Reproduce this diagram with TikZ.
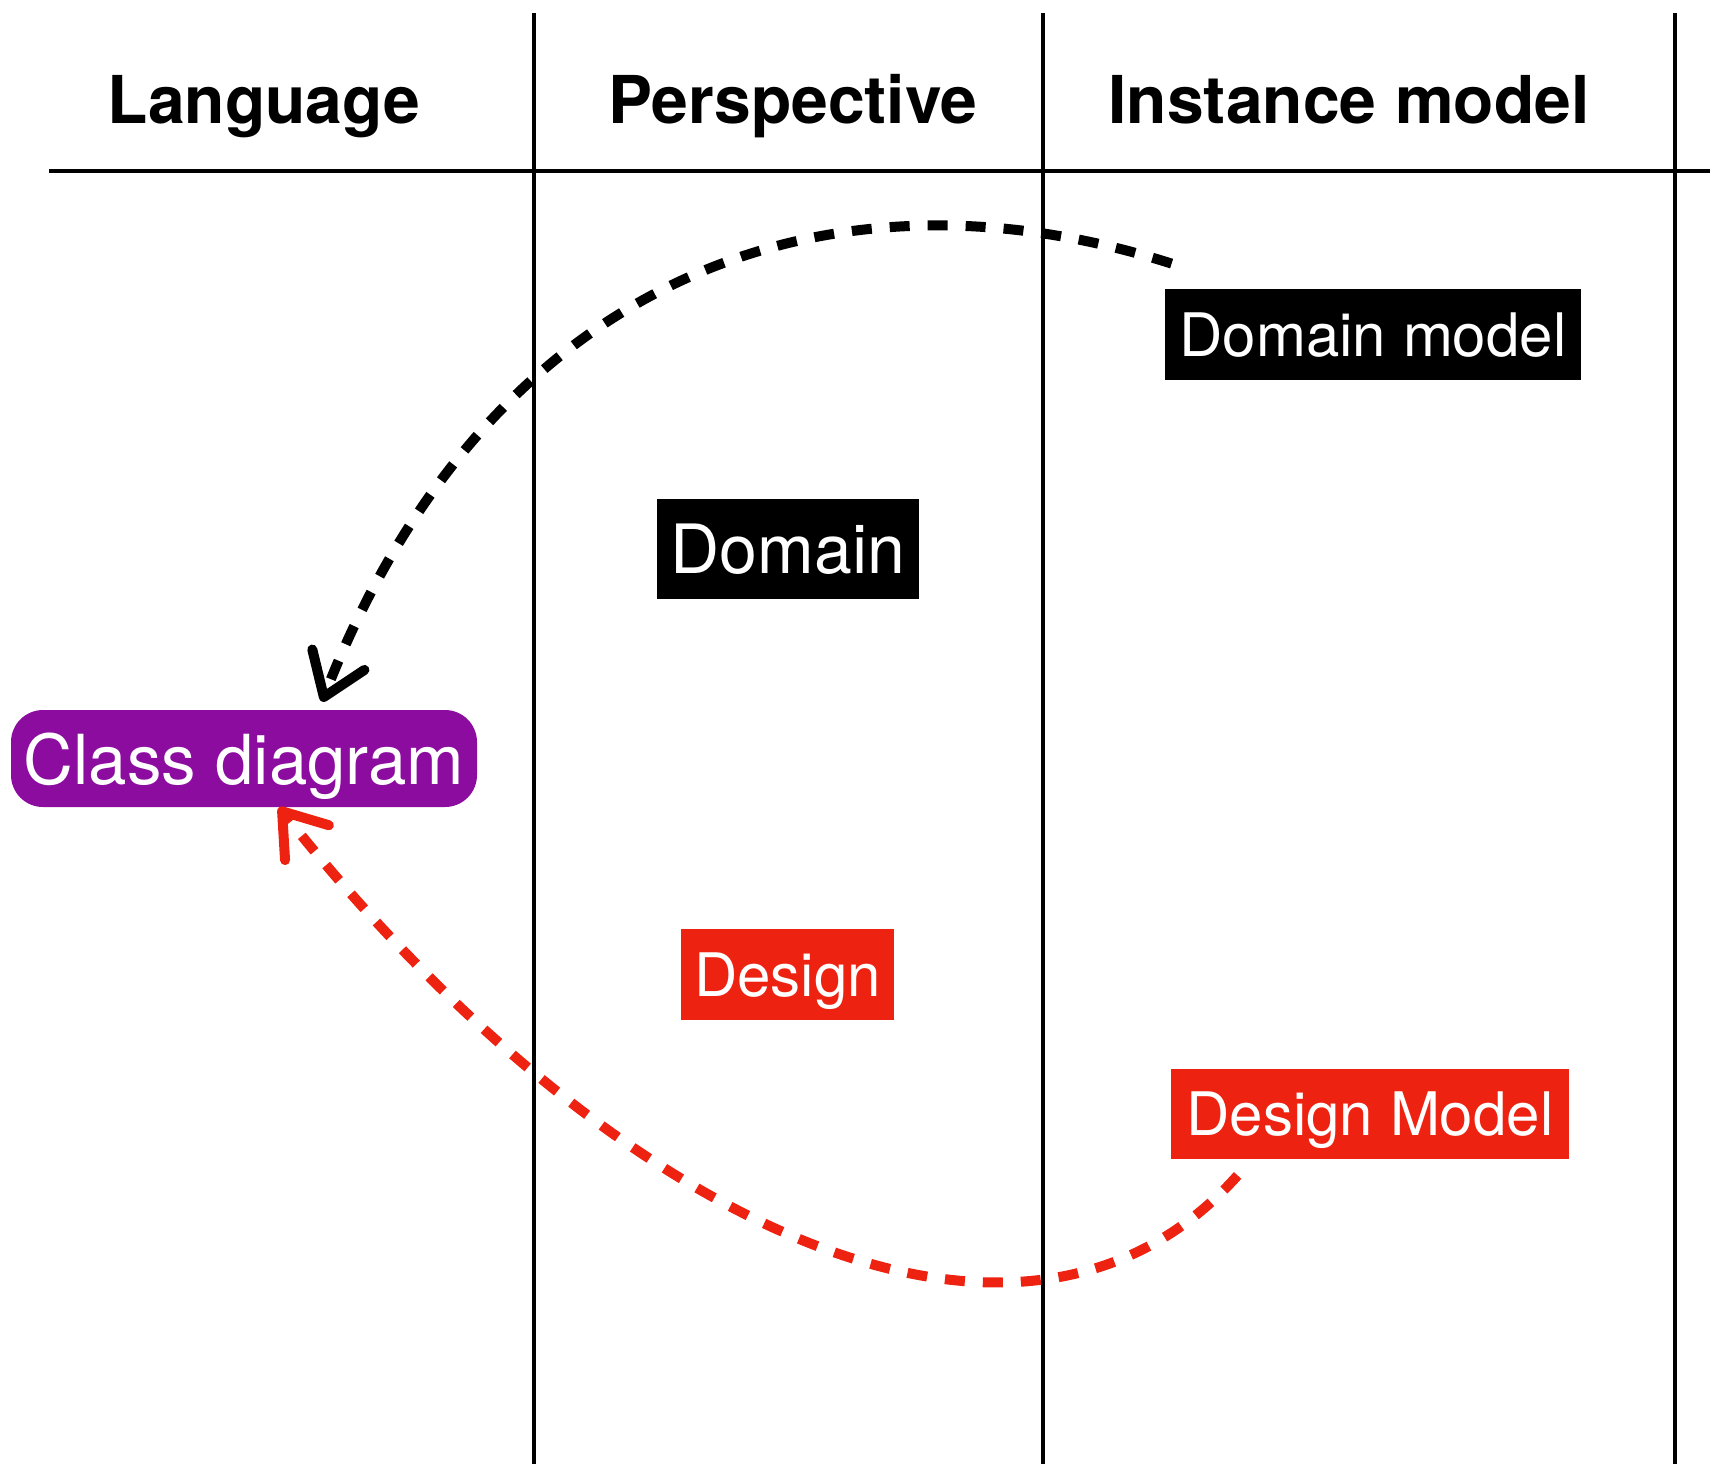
\documentclass[tikz,border=0pt]{standalone}
\usepackage{fontspec}
\setmainfont{TeX Gyre Heros}
\usetikzlibrary{arrows.meta,calc}
\definecolor{cdpurple}{HTML}{8C0CA0}
\definecolor{dred}{HTML}{EE2211}
\begin{document}
\begin{tikzpicture}[x=0.5pt,y=-0.5pt,
  hdr/.style={font=\fontsize{33}{40}\selectfont\bfseries, text depth=0pt, inner sep=0pt},
  box/.style={fill=black, text=white, inner sep=0pt, text depth=0pt},
  gridline/.style={line width=2.2pt},
  conn/.style={line width=5pt, dash pattern=on 10pt off 9pt, -{Straight Barb[length=20pt,width=28pt,line cap=round,line join=round]}}]
\useasboundingbox (0,0) rectangle (1710,1464);
% grid
\draw[gridline] (49,171) -- (1710,171);
\draw[gridline] (534,13) -- (534,1464);
\draw[gridline] (1043,13) -- (1043,1464);
\draw[gridline] (1675,13) -- (1675,1464);
% headers
\node[hdr] (hlang) at (264,99) {Language};
\node[hdr] (hpers) at (793,99) {Perspective};
\node[hdr] (hinst) at (1349,99) {Instance model};
% boxes
\node[box, minimum width=208pt, minimum height=45.5pt, font=\fontsize{30}{36}\selectfont] (dm) at (1373,334.5) {Domain model};
\node[box, minimum width=131pt, minimum height=50pt, font=\fontsize{34}{40}\selectfont] (dom) at (788,549) {Domain};
\node[box, fill=cdpurple, rounded corners=16pt, minimum width=233pt, minimum height=48.5pt, font=\fontsize{34.5}{40}\selectfont] (cd) at (244,758.5) {Class diagram};
\node[box, fill=dred, minimum width=106.5pt, minimum height=45.5pt, font=\fontsize{30}{36}\selectfont] (des) at (787.5,974.5) {Design};
\node[box, fill=dred, minimum width=199pt, minimum height=45pt, font=\fontsize{30}{36}\selectfont] (dsm) at (1370,1114) {Design Model};
% connectors
\draw[conn] ($(dm.north west)+(7,-25)$) .. controls (822,152) and (486,282) .. ($(cd.north)+(78,-8)$);
\draw[conn, dred] ($(dsm.south west)+(67,16)$) .. controls (1018,1422) and (605,1218) .. ($(cd.south)+(35,0)$);
\end{tikzpicture}
\end{document}
